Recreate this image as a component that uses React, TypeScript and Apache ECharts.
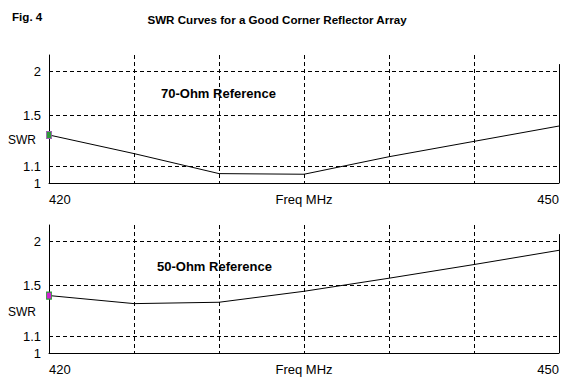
import React, { useEffect, useRef } from "react";
import * as echarts from "echarts";

const freqs = [420, 425, 430, 435, 440, 445, 450];
const swr70 = [1.33, 1.19, 1.057, 1.053, 1.168, 1.28, 1.404];
const swr50 = [1.408, 1.341, 1.352, 1.445, 1.566, 1.706, 1.869];
const yTickValues = [1, 1.1, 1.5, 2];
const xLabelMap: Record<number, string> = { 420: "420", 435: "Freq MHz", 450: "450" };
const panelTitles = ["70-Ohm Reference", "50-Ohm Reference"];
const chartTitle = "SWR Curves for a Good Corner Reflector Array";
const figLabel = "Fig. 4";
const yName = "SWR";

const rho = (s: number) => (s - 1) / (s + 1);
const yMaxSWR = 2.213;
const borderTopSWR = 2.08;
const FONT = "'Liberation Sans', Arial, sans-serif";

export default function App() {
  const ref = useRef<HTMLDivElement>(null);
  useEffect(() => {
    document.body.style.margin = "0";
    const chart = echarts.init(ref.current!, null, { renderer: "svg" });
    const grids = [
      { left: 49, right: 24, top: 55, height: 128 },
      { left: 49, right: 24, top: 225, height: 128 },
    ];
    const xAxes = grids.map((_, i) => ({
      type: "value",
      gridIndex: i,
      min: 420,
      max: 450,
      interval: 5,
      axisLine: { show: true, lineStyle: { color: "#000", width: 1 } },
      axisTick: { show: false },
      axisLabel: {
        show: true,
        margin: 10,
        color: "#000",
        fontFamily: FONT,
        fontSize: 13,
        alignMinLabel: "left",
        alignMaxLabel: "right",
        formatter: (v: number) => xLabelMap[v] ?? "",
      },
      splitLine: {
        show: true,
        showMinLine: false,
        showMaxLine: false,
        lineStyle: { color: "#000", type: [4, 3], width: 1 },
      },
    }));
    const yAxes = grids.map((_, i) => ({
      type: "value",
      gridIndex: i,
      min: 0,
      max: rho(yMaxSWR),
      axisLine: { show: true, onZero: false, lineStyle: { color: "#000", width: 1 } },
      axisTick: { show: false },
      axisLabel: { show: false },
      splitLine: { show: false },
    }));
    const makeSeries = (vals: number[], i: number, markerColor: string, markerBorder: string) => ({
      type: "line",
      xAxisIndex: i,
      yAxisIndex: i,
      symbol: "none",
      lineStyle: { color: "#000", width: 1 },
      data: freqs.map((f, k) =>
        k === 0
          ? {
              value: [f, rho(vals[k])],
              symbol: "rect",
              symbolSize: [5, 7],
              itemStyle: { color: markerColor, borderColor: markerBorder, borderWidth: 1 },
            }
          : { value: [f, rho(vals[k])] }
      ),
      showSymbol: true,
      markLine: {
        silent: true,
        symbol: "none",
        animation: false,
        lineStyle: { color: "#000", type: [4, 3], width: 1 },
        label: {
          show: true,
          position: "start",
          distance: 8,
          color: "#000",
          fontFamily: FONT,
          fontSize: 13,
          formatter: "{b}",
        },
        data: [
          ...yTickValues.map((t) => ({
            yAxis: rho(t),
            name: String(t),
            lineStyle: t === 1 ? { color: "rgba(0,0,0,0)" } : undefined,
          })),
          [
            { coord: [450, rho(borderTopSWR)], lineStyle: { type: "solid", color: "#000" }, label: { show: false } },
            { coord: [450, 0] },
          ],
        ],
      },
    });
    chart.setOption({
      animation: false,
      grid: grids,
      xAxis: xAxes,
      yAxis: yAxes,
      series: [
        makeSeries(swr70, 0, "#2f9a3a", "#9a60b0"),
        makeSeries(swr50, 1, "#d020d0", "#2f9a3a"),
      ],
      graphic: [
        { type: "text", left: 12, top: 10, style: { text: figLabel, font: `bold 11.6px ${FONT}`, fill: "#000" } },
        { type: "text", x: 277, y: 19, style: { text: chartTitle, font: `bold 11.6px ${FONT}`, fill: "#000", align: "center", verticalAlign: "middle" } },
        { type: "text", x: 161, y: 93, style: { text: panelTitles[0], font: `bold 13px ${FONT}`, fill: "#000", verticalAlign: "middle" } },
        { type: "text", x: 157, y: 266, style: { text: panelTitles[1], font: `bold 13px ${FONT}`, fill: "#000", verticalAlign: "middle" } },
        { type: "text", x: 8, y: 140, style: { text: yName, font: `12px ${FONT}`, fill: "#000", verticalAlign: "middle" } },
        { type: "text", x: 8, y: 312, style: { text: yName, font: `12px ${FONT}`, fill: "#000", verticalAlign: "middle" } },
      ],
    });
    return () => chart.dispose();
  }, []);
  return <div ref={ref} style={{ width: 583, height: 387, background: "#fff" }} />;
}
